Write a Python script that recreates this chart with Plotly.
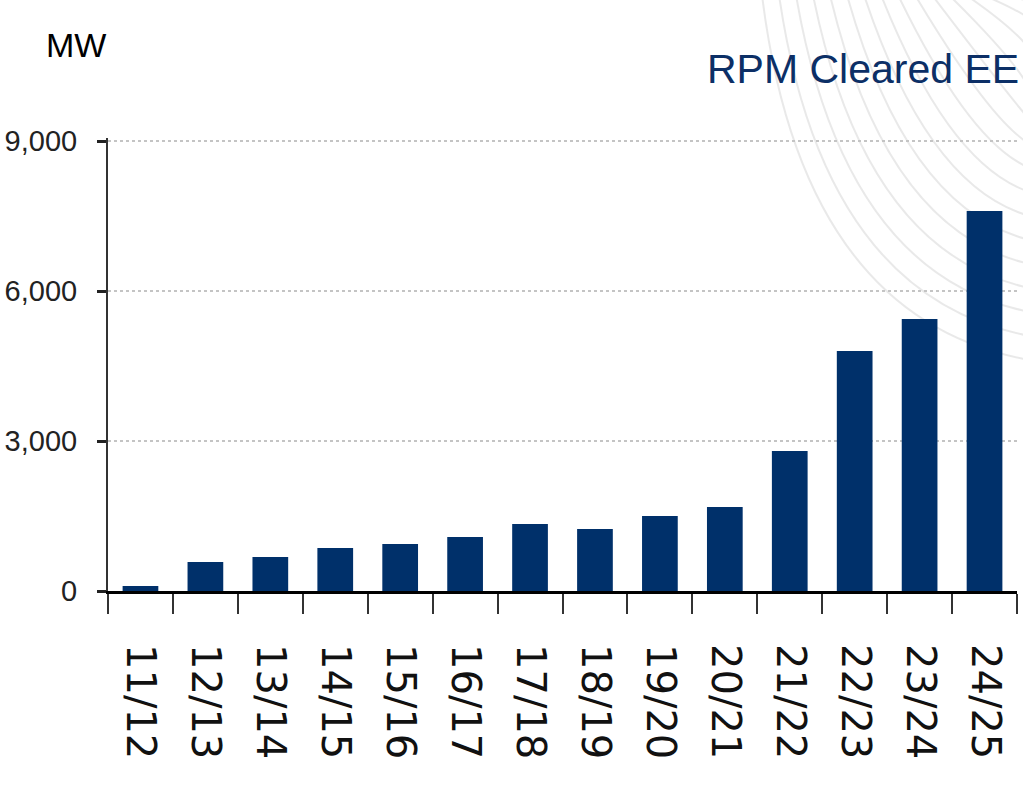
import plotly.graph_objects as go

categories = ["11/12", "12/13", "13/14", "14/15", "15/16", "16/17", "17/18",
              "18/19", "19/20", "20/21", "21/22", "22/23", "23/24", "24/25"]
cleared_mw = [100, 580, 680, 860, 940, 1080, 1340, 1240, 1500, 1680, 2800, 4800, 5440, 7600]
y_ticks = [0, 3000, 6000, 9000]
y_tick_labels = ["0", "3,000", "6,000", "9,000"]

W, H = 1023, 788
L, R, T, B = 108, 6, 138, 197
pw, ph = W - L - R, H - T - B

def px(x):
    return (x - L) / pw

def py(y):
    return (H - B - y) / ph

# decorative faint arcs in top-right background
shapes = []
for i in range(16):
    x0, y0 = 762 + i * 17, -5
    x1, y1 = 1030, 360 - i * 24
    cx, cy = x0 + 40 + i * 4, y1 - 40 + i * 2
    path = f"M {px(x0)},{py(y0)} Q {px(cx)},{py(cy)} {px(x1)},{py(y1)}"
    shapes.append(dict(type="path", path=path, xref="paper", yref="paper",
                       line=dict(color="rgba(200,200,200,0.4)", width=2),
                       layer="below"))

fig = go.Figure(go.Bar(
    x=categories, y=cleared_mw,
    marker=dict(color="#00306a", line=dict(width=0)),
    width=0.55,
))

fig.update_layout(
    width=W, height=H,
    margin=dict(l=L, r=R, t=T, b=B, pad=0, autoexpand=False),
    paper_bgcolor="white", plot_bgcolor="rgba(0,0,0,0)",
    showlegend=False,
    shapes=shapes,
    annotations=[
        dict(text="MW", x=px(76), y=py(45), xref="paper", yref="paper",
             showarrow=False, xanchor="center", yanchor="middle",
             font=dict(family="Liberation Sans, Arial, sans-serif",
                       size=34, color="black")),
        dict(text="RPM Cleared EE", x=px(1021), y=py(69), xref="paper", yref="paper",
             showarrow=False, xanchor="right", yanchor="middle",
             font=dict(family="Liberation Sans, Arial, sans-serif",
                       size=41, color="#0c2f66")),
    ],
)

fig.update_yaxes(
    range=[0, 9060], tickvals=y_ticks, ticktext=y_tick_labels,
    showgrid=True, gridcolor="#c4c4c4", griddash="dot", gridwidth=2,
    showline=True, linecolor="#333", linewidth=2,
    ticks="outside", ticklen=9, tickcolor="#222", tickwidth=3,
    zeroline=False, automargin=False,
    tickfont=dict(family="Liberation Sans, Arial, sans-serif",
                  size=29, color="#222"),
    ticklabelstandoff=14,
)
fig.update_xaxes(
    type="category", automargin=False,
    showline=True, linecolor="black", linewidth=3,
    ticks="outside", tickson="boundaries", ticklen=20, tickcolor="#333", tickwidth=2,
    tickangle=90,
    tickfont=dict(family="DejaVu Sans, Arial, sans-serif", size=40, color="#111"),
    ticklabelstandoff=42,
    showgrid=False,
)

fig.write_html("out.html")
